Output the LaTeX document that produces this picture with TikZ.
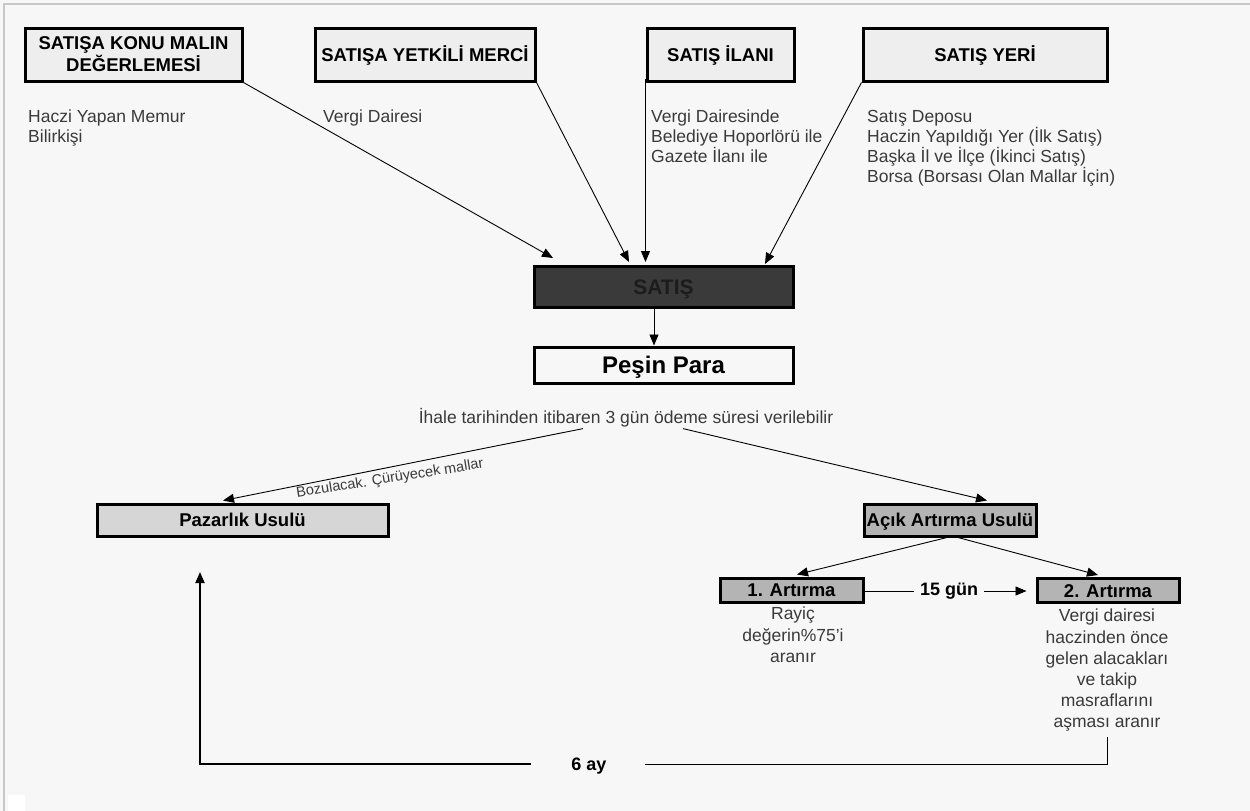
\documentclass[tikz,border=0pt]{standalone}
\usepackage{fontspec}
\setmainfont{Liberation Sans}
\usetikzlibrary{arrows.meta}
\definecolor{bgc}{HTML}{F7F7F7}
\definecolor{framec}{HTML}{C8C8C8}
\definecolor{topfill}{HTML}{EEEEEE}
\definecolor{darkfill}{HTML}{3A3A3A}
\definecolor{darktext}{HTML}{1C1C1C}
\definecolor{pazfill}{HTML}{D6D6D6}
\definecolor{acikfill}{HTML}{B4B4B4}
\definecolor{bodytext}{HTML}{3A3A3A}
\tikzset{
  box/.style={draw=black, line width=3pt, rectangle, inner sep=0pt, font=\fontsize{18.5}{22}\selectfont\bfseries},
  capc/.style={text height=#1, text depth=0pt},
  capc/.default=13.2pt,
  topbox/.style={box, fill=topfill},
  body/.style={inner sep=0pt, text=bodytext, font=\fontsize{17.5}{20}\selectfont},
  conn/.style={draw=black, line width=0.9pt},
  arr/.style={conn, -{Triangle[length=11pt,width=9pt]}},
}
\begin{document}
\begin{tikzpicture}[x=1pt,y=-1pt]
\fill[bgc] (0,0) rectangle (1250,811);
\useasboundingbox (0,0) rectangle (1250,811);
\draw[framec, line width=2pt] (4,811) -- (4,4) -- (1250,4);
\fill[white] (8,795) rectangle (25,811);

% top boxes
\node[topbox, align=center, minimum width=217, minimum height=53] (b1) at (133.5,54.5) {SATIŞA KONU MALIN\\DEĞERLEMESİ};
\node[topbox, capc, minimum width=220, minimum height=53] (b2) at (425,54.5) {SATIŞA YETKİLİ MERCİ};
\node[topbox, capc, minimum width=147, minimum height=53] (b3) at (720.5,54.5) {SATIŞ İLANI};
\node[topbox, capc, minimum width=244, minimum height=53] (b4) at (985,54.5) {SATIŞ YERİ};

% texts under top boxes
\node[body, anchor=north west, align=left] (t1) at (28,110) {Haczi Yapan Memur\\Bilirkişi};
\node[body, anchor=north west, align=left] (t2) at (323,110) {Vergi Dairesi};
\node[body, anchor=north west, align=left] (t3) at (651,110) {Vergi Dairesinde\\Belediye Hoporlörü ile\\Gazete İlanı ile};
\node[body, anchor=north west, align=left] (t4) at (867,110) {Satış Deposu\\Haczin Yapıldığı Yer (İlk Satış)\\Başka İl ve İlçe (İkinci Satış)\\Borsa (Borsası Olan Mallar İçin)};

% SATIS and Pesin Para
\node[box, capc=15pt, fill=darkfill, text=darktext, minimum width=259, minimum height=41, font=\fontsize{21}{24}\selectfont\bfseries] (satis) at (663.5,286.5) {SATIŞ};
\node[box, capc=17.2pt, fill=bgc, minimum width=259, minimum height=36, font=\fontsize{24}{26}\selectfont\bfseries] (pesin) at (663.5,365) {Peşin Para};

\coordinate (e1) at (553,258);
\coordinate (e2) at (629,262);
\coordinate (e4) at (765,264);
\draw[arr] (b1.south east) -- (e1);
\draw[arr] (b2.south east) -- (e2);
\draw[arr] ([yshift=4pt]b3.south west) -- (b3.south west |- e2);
\draw[arr] (b4.south west) -- (e4);
\draw[arr] ([xshift=-9.5pt]satis.south) -- ([xshift=-9.5pt]pesin.north);

\node[body] (ihale) at (626,418) {İhale tarihinden itibaren 3 gün ödeme süresi verilebilir};

% methods
\node[box, capc, fill=pazfill, minimum width=291, minimum height=32] (paz) at (242.5,520) {Pazarlık Usulü};
\node[box, capc, fill=acikfill, minimum width=172, minimum height=32] (acik) at (950,520) {Açık Artırma Usulü};

\draw[arr] ([xshift=-43pt,yshift=-1pt]ihale.south) -- ([xshift=-19.5pt,yshift=2pt]paz.north);
\draw[arr] ([xshift=57pt,yshift=-1pt]ihale.south) -- ([xshift=37pt,yshift=2pt]acik.north);
\node[inner sep=0pt, text=bodytext, font=\fontsize{14.5}{16}\selectfont, rotate=9] (boz) at (390,479) {Bozulacak. Çürüyecek mallar};

% artirma
\node[box, capc, fill=acikfill, minimum width=143, minimum height=24] (art1) at (791.5,590) {1. Artırma};
\node[box, capc, fill=acikfill, minimum width=142, minimum height=24] (art2) at (1108,590.5) {2. Artırma};
\draw[arr] ([xshift=-3pt]acik.south) -- ([xshift=5.5pt,yshift=2pt]art1.north);
\draw[arr] ([xshift=8pt]acik.south) -- ([xshift=-10pt,yshift=2pt]art2.north);

\node[inner sep=0pt, font=\fontsize{18}{20}\selectfont\bfseries] (gun) at (949,591) {15 gün};
\draw[conn] (art1.east |- gun) -- ([xshift=-6pt]gun.west);
\draw[arr] ([xshift=6pt]gun.east) -- ([xshift=-9pt]art2.west |- gun);

\node[body, anchor=north, align=center, font=\fontsize{17.5}{21.5}\selectfont] (r1) at (793,607) {Rayiç\\değerin\%75'i\\aranır};
\node[body, anchor=north, align=center, font=\fontsize{17.5}{21.2}\selectfont] (r2) at (1107,609) {Vergi dairesi\\haczinden önce\\gelen alacakları\\ve takip\\masraflarını\\aşması aranır};

% bottom loop
\node[inner sep=0pt, font=\fontsize{18}{20}\selectfont\bfseries] (ay) at (589,766) {6 ay};
\coordinate (c1) at (1107,737);
\coordinate (c2) at (1107,764);
\coordinate (c3) at (200,764);
\coordinate (c4) at (200,572);
\draw[conn] (c1) -- (c2) -- (c2 -| 645,0);
\draw[draw=black, line width=1.8pt, -{Triangle[length=11pt,width=9pt]}] (531,764) -- (c3) -- (c4);
\end{tikzpicture}
\end{document}
